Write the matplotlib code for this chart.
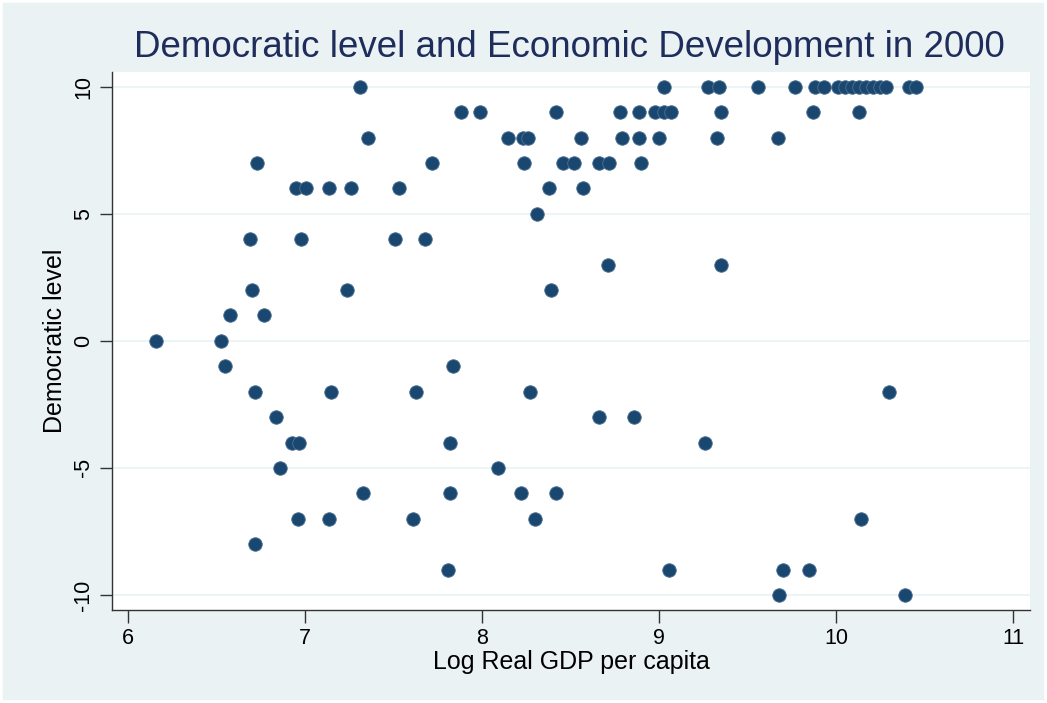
import matplotlib
matplotlib.use("Agg")
import matplotlib.pyplot as plt
from matplotlib.patches import Rectangle

plt.rcParams['font.family'] = ['Liberation Sans', 'DejaVu Sans']

# Data (log real GDP per capita, democratic level)
democ_10 = [7.31, 9.03, 9.28, 9.34, 9.56, 9.77, 9.88, 9.93, 10.01, 10.05, 10.09,
            10.13, 10.17, 10.21, 10.25, 10.28, 10.41, 10.45]
democ_9 = [7.88, 7.99, 8.42, 8.78, 8.89, 8.98, 9.03, 9.07, 9.35, 9.87, 10.13]
democ_8 = [7.36, 8.15, 8.23, 8.26, 8.56, 8.79, 8.89, 9.00, 9.33, 9.67]
democ_7 = [6.73, 7.72, 8.24, 8.46, 8.52, 8.66, 8.72, 8.90]
democ_6 = [6.95, 7.01, 7.14, 7.26, 7.53, 8.38, 8.57]
democ_5 = [8.31]
democ_4 = [6.69, 6.98, 7.51, 7.68]
democ_3 = [8.71, 9.35]
democ_2 = [6.70, 7.24, 8.39]
democ_1 = [6.58, 6.77]
democ_0 = [6.16, 6.53]
democ_m1 = [6.55, 7.84]
democ_m2 = [6.72, 7.15, 7.63, 8.27, 10.30]
democ_m3 = [6.84, 8.66, 8.86]
democ_m4 = [6.93, 6.97, 7.82, 9.26]
democ_m5 = [6.86, 8.09]
democ_m6 = [7.33, 7.82, 8.22, 8.42]
democ_m7 = [6.96, 7.14, 7.61, 8.30, 10.14]
democ_m8 = [6.72]
democ_m9 = [7.81, 9.06, 9.70, 9.85]
democ_m10 = [9.68, 10.39]

groups = {
    10: democ_10, 9: democ_9, 8: democ_8, 7: democ_7, 6: democ_6, 5: democ_5,
    4: democ_4, 3: democ_3, 2: democ_2, 1: democ_1, 0: democ_0, -1: democ_m1,
    -2: democ_m2, -3: democ_m3, -4: democ_m4, -5: democ_m5, -6: democ_m6,
    -7: democ_m7, -8: democ_m8, -9: democ_m9, -10: democ_m10,
}

x_ticks = [6, 7, 8, 9, 10, 11]
y_ticks = [-10, -5, 0, 5, 10]

gdp = []
democ = []
for level, xs in groups.items():
    for v in xs:
        gdp.append(v)
        democ.append(level)

bg = '#EAF2F3'
navy = '#1a476f'

fig = plt.figure(figsize=(10.47, 7.03), dpi=100, facecolor=bg)
# thin white outer frame
fig.patches.append(Rectangle((0, 0), 1, 1, transform=fig.transFigure,
                             facecolor='none', edgecolor='white', linewidth=4,
                             zorder=10))

ax = fig.add_axes([0.107, 0.1323, 0.8768, 0.7653])
ax.set_facecolor('white')

ax.scatter(gdp, democ, s=95, color=navy, edgecolors='#4f7394', linewidths=0.6, zorder=3)

ax.set_xlim(5.912, 11.096)
ax.set_ylim(-10.59, 10.58)
ax.set_xticks(x_ticks)
ax.set_yticks(y_ticks)
ax.set_yticklabels([str(t) for t in y_ticks], rotation=90, va='center')
ax.grid(axis='y', color='#EAF2F3', linewidth=1.2, zorder=0)
ax.grid(axis='x', visible=False)

for s in ['top', 'right']:
    ax.spines[s].set_visible(False)
for s in ['left', 'bottom']:
    ax.spines[s].set_color('#333333')
    ax.spines[s].set_linewidth(1.0)

ax.tick_params(axis='both', direction='out', length=9, width=1, color='#333333',
               labelsize=15.5, labelcolor='black', pad=4)

ax.set_xlabel('Log Real GDP per capita', fontsize=18, labelpad=1)
ax.set_ylabel('Democratic level', fontsize=18, labelpad=4)

fig.text(0.5435, 0.932, 'Democratic level and Economic Development in 2000',
         ha='center', va='center', fontsize=26.5, color='#1e2d5c')

fig.savefig('out.png', dpi=100, facecolor=bg)
